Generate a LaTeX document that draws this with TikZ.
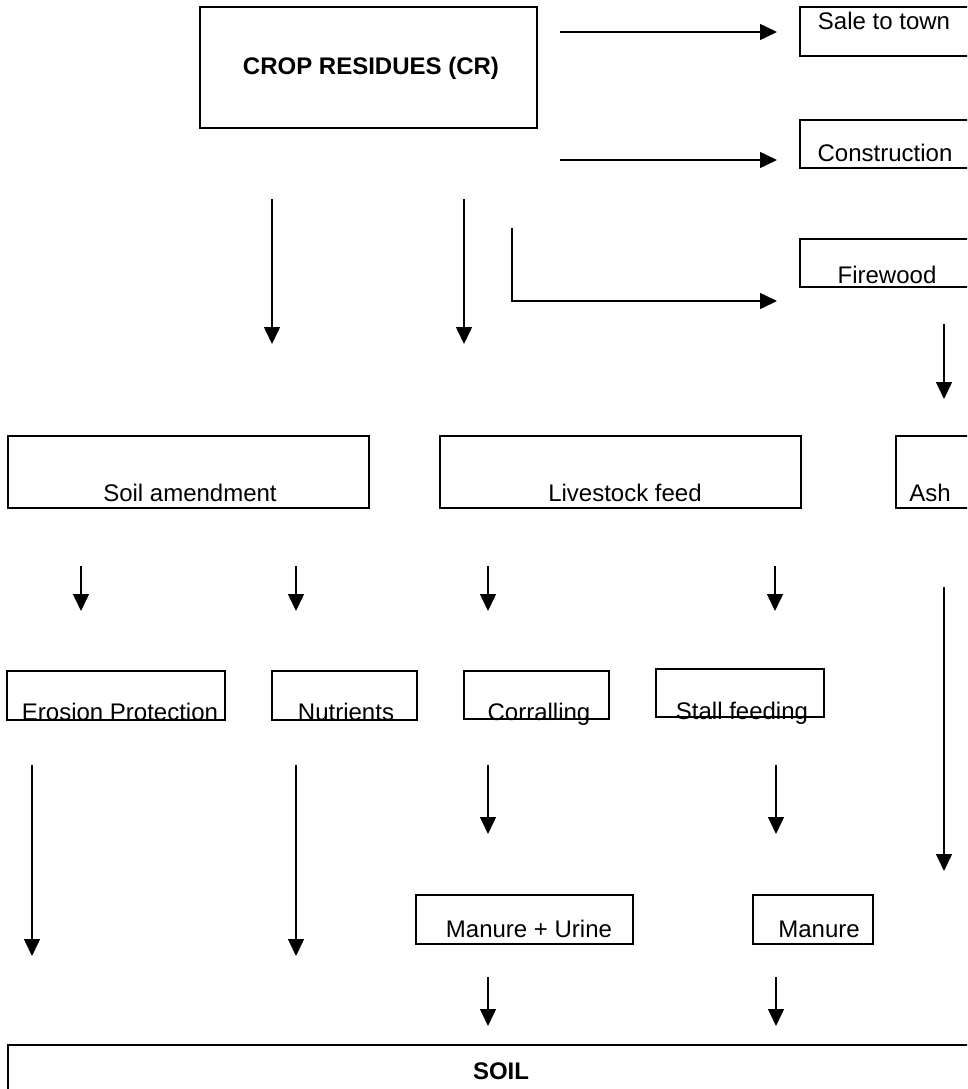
\documentclass[tikz,border=0pt]{standalone}
\usepackage{fontspec}
\setmainfont{Liberation Sans}
\usetikzlibrary{arrows.meta}
\begin{document}
\begin{tikzpicture}[x=1pt,y=-1pt,
  box/.style={draw, line width=1.5pt, inner sep=0pt, outer sep=0pt, anchor=north west},
  lbl/.style={anchor=base, inner sep=0pt, font=\fontsize{24}{28}\selectfont},
  blbl/.style={lbl, font=\fontsize{24}{28}\selectfont\bfseries},
  arr/.style={line width=1.5pt, -{Triangle[width=16pt,length=17pt]}}]
\useasboundingbox (0,0) rectangle (967,1089);
\clip (0,0) rectangle (967,1089);
% boxes
\node[box, minimum width=337pt, minimum height=121pt] (cr) at (200,7) {};
\node[box, minimum width=220pt, minimum height=49pt] (sale) at (800,7) {};
\node[box, minimum width=220pt, minimum height=48pt] (cons) at (800,120) {};
\node[box, minimum width=220pt, minimum height=48pt] (fire) at (800,239) {};
\node[box, minimum width=361pt, minimum height=72pt] (soilam) at (8,436) {};
\node[box, minimum width=361pt, minimum height=72pt] (live) at (440,436) {};
\node[box, minimum width=220pt, minimum height=72pt] (ash) at (896,436) {};
\node[box, minimum width=218pt, minimum height=49pt] (eros) at (7,671) {};
\node[box, minimum width=145pt, minimum height=49pt] (nutr) at (272,671) {};
\node[box, minimum width=145pt, minimum height=48pt] (corr) at (464,671) {};
\node[box, minimum width=168pt, minimum height=48pt] (stall) at (656,669) {};
\node[box, minimum width=217pt, minimum height=49pt] (mu) at (416,895) {};
\node[box, minimum width=120pt, minimum height=49pt] (man) at (753,895) {};
\node[box, minimum width=1000pt, minimum height=100pt] (soil) at (8,1045) {};
% labels
\node[blbl] (crt) at (371,75) {CROP RESIDUES (CR)};
\node[lbl] (salet) at (884,30) {Sale to town};
\node[lbl] (const) at (885,161) {Construction};
\node[lbl] (firet) at (887,283) {Firewood};
\node[lbl] (soilamt) at (190,501) {Soil amendment};
\node[lbl] (livet) at (625,501) {Livestock feed};
\node[lbl] (asht) at (930,501) {Ash};
\node[lbl] (erost) at (120,720) {Erosion Protection};
\node[lbl] (nutrt) at (346,720) {Nutrients};
\node[lbl] (corrt) at (539,720) {Corralling};
\node[lbl] (stallt) at (742,719) {Stall feeding};
\node[lbl] (mut) at (529,937) {Manure + Urine};
\node[lbl] (mant) at (819,937) {Manure};
\node[blbl] (soilt) at (501,1079) {SOIL};
% arrow end points
\coordinate (a1s) at (560,32);  \coordinate (a1e) at (777,32);
\coordinate (a2s) at (560,160); \coordinate (a2e) at (777,160);
\coordinate (a3s) at (512,228); \coordinate (a3c) at (512,301); \coordinate (a3e) at (777,301);
\coordinate (a4s) at (272,199); \coordinate (a4e) at (272,344);
\coordinate (a5s) at (464,199); \coordinate (a5e) at (464,344);
\coordinate (a6s) at (944,324); \coordinate (a6e) at (944,399);
\coordinate (b1s) at (81,566);  \coordinate (b1e) at (81,611);
\coordinate (b2s) at (296,566); \coordinate (b2e) at (296,611);
\coordinate (b3s) at (488,566); \coordinate (b3e) at (488,611);
\coordinate (b4s) at (775,566); \coordinate (b4e) at (775,611);
\coordinate (c1s) at (944,587); \coordinate (c1e) at (944,871);
\coordinate (c2s) at (32,765);  \coordinate (c2e) at (32,956);
\coordinate (c3s) at (296,765); \coordinate (c3e) at (296,956);
\coordinate (c4s) at (488,765); \coordinate (c4e) at (488,834);
\coordinate (c5s) at (776,765); \coordinate (c5e) at (776,834);
\coordinate (d1s) at (488,977); \coordinate (d1e) at (488,1026);
\coordinate (d2s) at (776,977); \coordinate (d2e) at (776,1026);
% arrows
\draw[arr] (a1s) -- (a1e);
\draw[arr] (a2s) -- (a2e);
\draw[arr] (a3s) -- (a3c) -- (a3e);
\draw[arr] (a4s) -- (a4e);
\draw[arr] (a5s) -- (a5e);
\draw[arr] (a6s) -- (a6e);
\draw[arr] (b1s) -- (b1e);
\draw[arr] (b2s) -- (b2e);
\draw[arr] (b3s) -- (b3e);
\draw[arr] (b4s) -- (b4e);
\draw[arr] (c1s) -- (c1e);
\draw[arr] (c2s) -- (c2e);
\draw[arr] (c3s) -- (c3e);
\draw[arr] (c4s) -- (c4e);
\draw[arr] (c5s) -- (c5e);
\draw[arr] (d1s) -- (d1e);
\draw[arr] (d2s) -- (d2e);
\end{tikzpicture}
\end{document}
